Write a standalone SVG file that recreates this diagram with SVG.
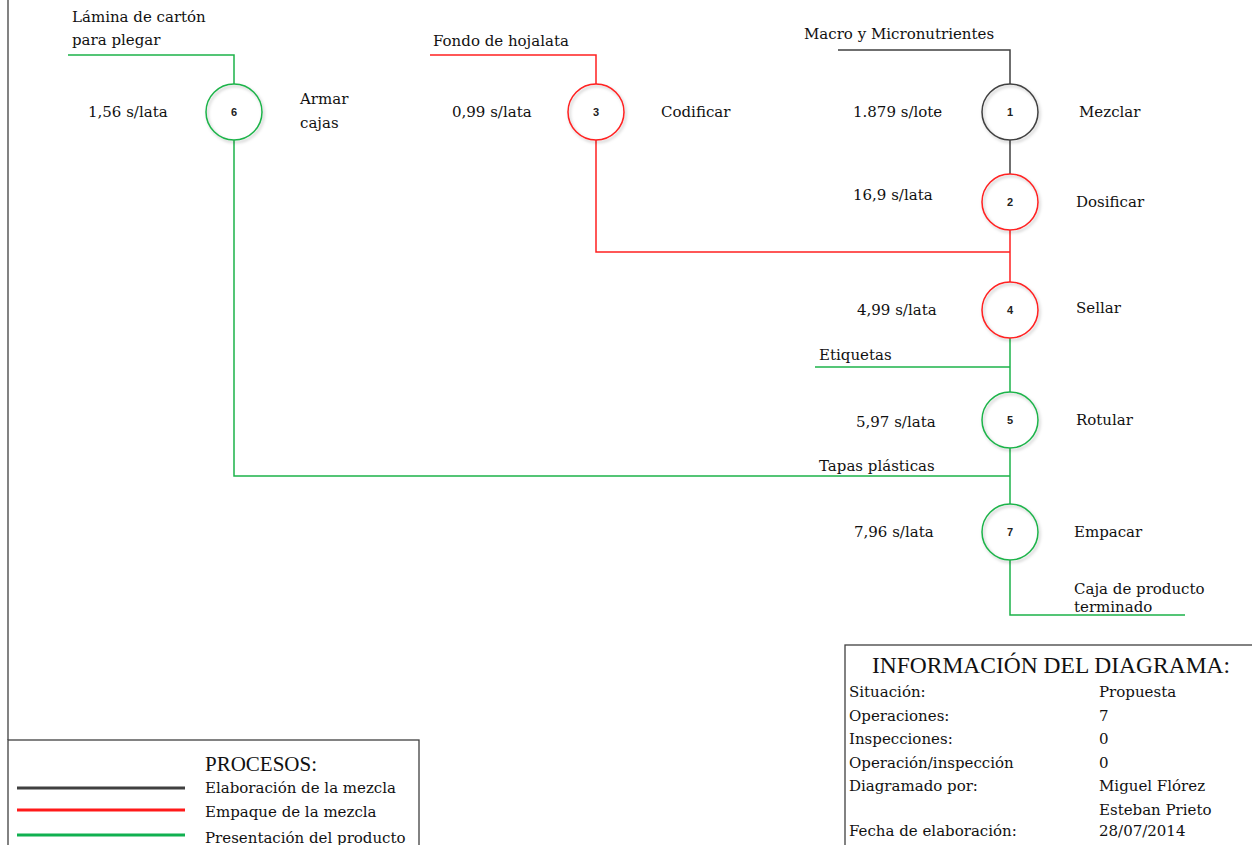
<svg xmlns="http://www.w3.org/2000/svg" width="1252" height="845" viewBox="0 0 1252 845">
<style>
.t{font-family:"DejaVu Serif","Liberation Serif",serif;font-size:15px;fill:#111}
.h{font-family:"Liberation Serif",serif;fill:#111}
.n{font-family:"Liberation Sans",sans-serif;font-size:11px;font-weight:bold;fill:#222;text-anchor:middle}
.k{stroke:#404040;stroke-width:1.5;fill:none}
.r{stroke:#ff2020;stroke-width:1.5;fill:none}
.g{stroke:#1db34a;stroke-width:1.5;fill:none}
.box{fill:none;stroke:#404040;stroke-width:1.3}
</style>
<defs>
<radialGradient id="fill" cx="45%" cy="40%" r="65%">
<stop offset="0" stop-color="#ffffff"/>
<stop offset="1" stop-color="#e4e4e4"/>
</radialGradient>
<filter id="sh" x="-30%" y="-30%" width="160%" height="160%">
<feDropShadow dx="1.5" dy="2" stdDeviation="1.5" flood-color="#000" flood-opacity="0.25"/>
</filter>
</defs>
<rect width="1252" height="845" fill="#fff"/>
<line x1="8" y1="0" x2="8" y2="740" class="box"/>

<g id="connectors">
<polyline class="g" points="68,55 234,55 234,84"/>
<polyline class="g" points="234,140 234,476 1010,476"/>
<polyline class="r" points="430,55 596,55 596,84"/>
<polyline class="r" points="596,140 596,252 1010,252"/>
<polyline class="k" points="838,50 1010,50 1010,84"/>
<line class="k" x1="1010" y1="140" x2="1010" y2="174"/>
<line class="r" x1="1010" y1="230" x2="1010" y2="282"/>
<line class="g" x1="1010" y1="338" x2="1010" y2="392"/>
<line class="g" x1="815" y1="367" x2="1010" y2="367"/>
<line class="g" x1="1010" y1="448" x2="1010" y2="504"/>
<polyline class="g" points="1010,560 1010,615 1185,615"/>
</g>

<g id="node6">
<circle cx="234" cy="112" r="28" fill="url(#fill)" filter="url(#sh)" class="g"/>
<text class="n" x="234" y="116">6</text>
<text class="t" x="88" y="117">1,56 s/lata</text>
<text class="t" x="300" y="104">Armar</text>
<text class="t" x="300" y="128">cajas</text>
<text class="t" x="72" y="22">Lámina de cartón</text>
<text class="t" x="72" y="45">para plegar</text>
</g>
<g id="node3">
<circle cx="596" cy="112" r="28" fill="url(#fill)" filter="url(#sh)" class="r"/>
<text class="n" x="596" y="116">3</text>
<text class="t" x="452" y="117">0,99 s/lata</text>
<text class="t" x="661" y="117">Codificar</text>
<text class="t" x="433" y="46">Fondo de hojalata</text>
</g>
<g id="node1">
<circle cx="1010" cy="112" r="28" fill="url(#fill)" filter="url(#sh)" class="k"/>
<text class="n" x="1010" y="116">1</text>
<text class="t" x="853" y="117">1.879 s/lote</text>
<text class="t" x="1079" y="117">Mezclar</text>
<text class="t" x="804" y="39">Macro y Micronutrientes</text>
</g>
<g id="node2">
<circle cx="1010" cy="202" r="28" fill="url(#fill)" filter="url(#sh)" class="r"/>
<text class="n" x="1010" y="206">2</text>
<text class="t" x="853" y="200">16,9 s/lata</text>
<text class="t" x="1076" y="207">Dosificar</text>
</g>
<g id="node4">
<circle cx="1010" cy="310" r="28" fill="url(#fill)" filter="url(#sh)" class="r"/>
<text class="n" x="1010" y="314">4</text>
<text class="t" x="857" y="315">4,99 s/lata</text>
<text class="t" x="1076" y="313">Sellar</text>
</g>
<g id="node5">
<circle cx="1010" cy="420" r="28" fill="url(#fill)" filter="url(#sh)" class="g"/>
<text class="n" x="1010" y="424">5</text>
<text class="t" x="856" y="427">5,97 s/lata</text>
<text class="t" x="1076" y="425">Rotular</text>
<text class="t" x="819" y="360">Etiquetas</text>
</g>
<g id="node7">
<circle cx="1010" cy="532" r="28" fill="url(#fill)" filter="url(#sh)" class="g"/>
<text class="n" x="1010" y="536">7</text>
<text class="t" x="854" y="537">7,96 s/lata</text>
<text class="t" x="1074" y="537">Empacar</text>
<text class="t" x="819" y="471">Tapas plásticas</text>
<text class="t" x="1074" y="594">Caja de producto</text>
<text class="t" x="1074" y="612">terminado</text>
</g>

<g id="legend">
<rect class="box" x="8" y="740" width="411" height="110"/>
<text class="h" x="205" y="771" style="font-size:21px">PROCESOS:</text>
<line x1="17" y1="788" x2="185" y2="788" stroke="#404040" stroke-width="3"/>
<line x1="17" y1="810" x2="185" y2="810" stroke="#ff1a1a" stroke-width="3"/>
<line x1="17" y1="835" x2="185" y2="835" stroke="#10b050" stroke-width="3"/>
<text class="t" x="205" y="793">Elaboración de la mezcla</text>
<text class="t" x="205" y="817">Empaque de la mezcla</text>
<text class="t" x="205" y="843">Presentación del producto</text>
</g>

<g id="info">
<rect class="box" x="845" y="645" width="420" height="210"/>
<text class="h" x="1051" y="673" style="font-size:23.5px" text-anchor="middle">INFORMACIÓN DEL DIAGRAMA:</text>
<text class="t" x="849" y="697">Situación:</text><text class="t" x="1099" y="697">Propuesta</text>
<text class="t" x="849" y="721">Operaciones:</text><text class="t" x="1099" y="721">7</text>
<text class="t" x="849" y="744">Inspecciones:</text><text class="t" x="1099" y="744">0</text>
<text class="t" x="849" y="768">Operación/inspección</text><text class="t" x="1099" y="768">0</text>
<text class="t" x="849" y="791">Diagramado por:</text><text class="t" x="1099" y="791">Miguel Flórez</text>
<text class="t" x="1099" y="815">Esteban Prieto</text>
<text class="t" x="849" y="836">Fecha de elaboración:</text><text class="t" x="1099" y="836">28/07/2014</text>
</g>
</svg>
